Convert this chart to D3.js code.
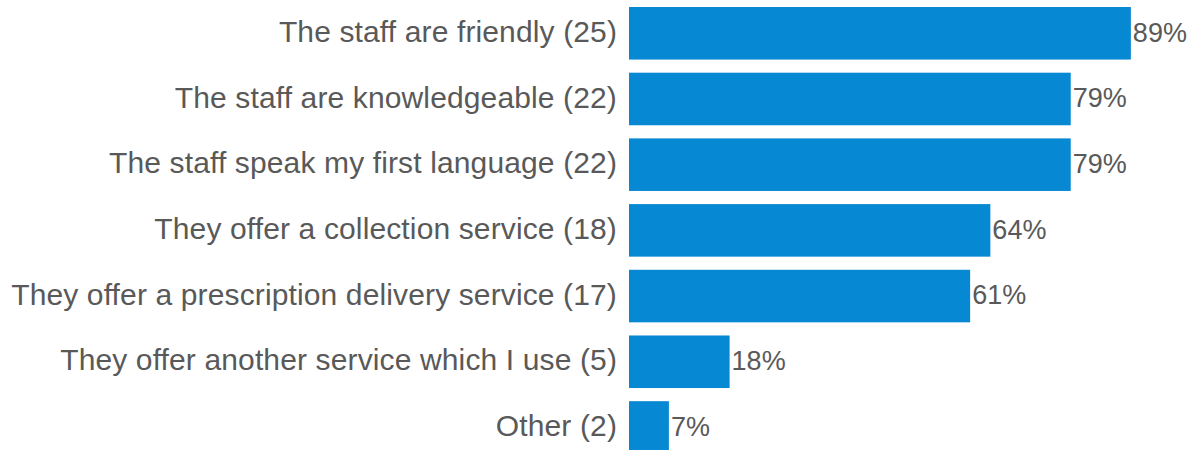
<!DOCTYPE html>
<html>
<head>
<meta charset="utf-8">
<script src="https://cdn.jsdelivr.net/npm/d3@7"></script>
<style>
  html, body { margin: 0; padding: 0; background: #ffffff; }
  svg { display: block; }
</style>
</head>
<body>
<svg id="chart" width="1195" height="450"></svg>
<script>
const categories = [
  "The staff are friendly (25)",
  "The staff are knowledgeable (22)",
  "The staff speak my first language (22)",
  "They offer a collection service (18)",
  "They offer a prescription delivery service (17)",
  "They offer another service which I use (5)",
  "Other (2)"
];
const values = [89.3, 78.6, 78.6, 64.3, 60.7, 17.9, 7.1];
const valueLabels = ["89%", "79%", "79%", "64%", "61%", "18%", "7%"];

const svg = d3.select("#chart");
const x = d3.scaleLinear().domain([0, 100]).range([629, 1191]);
const y = d3.scaleBand().domain(categories).range([0.43, 460.3]).paddingInner(0.2).paddingOuter(0.1);

const data = categories.map((c, i) => ({ c, v: values[i], l: valueLabels[i] }));

svg.selectAll("rect.bar").data(data).join("rect")
  .attr("class", "bar")
  .attr("x", x(0))
  .attr("y", d => y(d.c))
  .attr("width", d => x(d.v) - x(0))
  .attr("height", y.bandwidth())
  .attr("fill", "#0788D3");

const yAxis = d3.axisLeft(y).tickSize(0).tickPadding(12);
const ag = svg.append("g").attr("transform", `translate(${x(0)},0)`).call(yAxis);
ag.select(".domain").remove();
ag.selectAll("text")
  .attr("font-family", "Liberation Sans, Arial, sans-serif")
  .attr("font-size", "30px")
  .attr("letter-spacing", "0.13px")
  .attr("fill", "#595959")
  .attr("dy", "0.29em");

svg.selectAll("text.val").data(data).join("text")
  .attr("class", "val")
  .attr("x", d => x(d.v) + 2)
  .attr("y", d => y(d.c) + y.bandwidth() / 2)
  .attr("dy", "0.31em")
  .attr("font-family", "Liberation Sans, Arial, sans-serif")
  .attr("font-size", "27px")
  .attr("fill", "#595959")
  .text(d => d.l);
</script>
</body>
</html>
